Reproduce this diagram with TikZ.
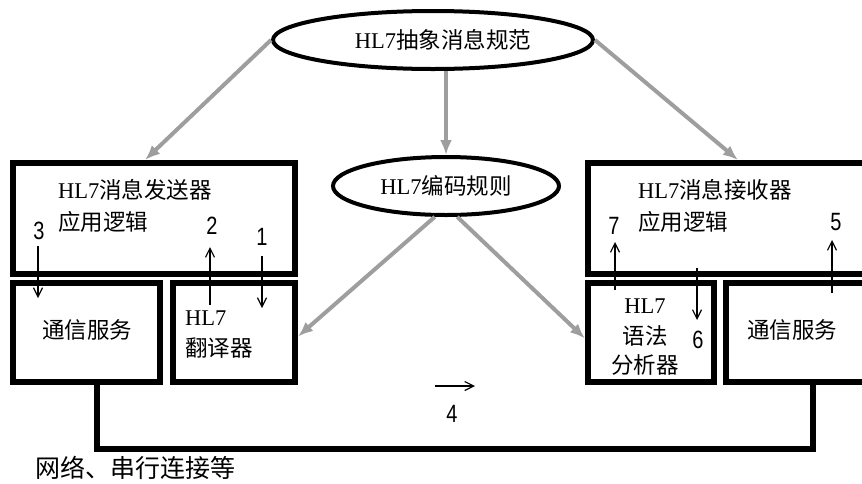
\documentclass[tikz,border=0pt]{standalone}
\usepackage{fontspec}
\setmainfont{Liberation Serif}
\newfontfamily\cjk{Noto Sans CJK SC}
\newfontfamily\numf{Liberation Sans}
\usetikzlibrary{arrows.meta,shapes.geometric}
\begin{document}
\begin{tikzpicture}[x=1pt,y=-1pt,
  box/.style={draw=black,line width=6pt,rectangle,inner sep=0pt},
  oval/.style={draw=black,line width=4pt,ellipse,inner sep=0pt,fill=white},
  txt/.style={font=\fontsize{22.5}{26}\selectfont,inner sep=0pt,align=left},
  num/.style={font=\fontsize{25}{25}\numf,inner sep=0pt,xscale=0.8},
  garrow/.style={draw=black!38,line width=4pt,-{Latex[length=15pt,width=12pt]}},
  narrow/.style={draw=black,line width=1.2pt,-{Straight Barb[length=9pt,width=9pt]}},
  net/.style={draw=black,line width=6pt}]
\useasboundingbox (0,0) rectangle (862,483);
\clip (0,0) rectangle (862,483);
% boxes
\node[box,minimum width=282pt,minimum height=111pt] (sender) at (154,218.5) {};
\node[box,minimum width=147pt,minimum height=99pt] (commL) at (86.5,332.5) {};
\node[box,minimum width=122pt,minimum height=99pt] (trans) at (234,332.5) {};
\node[box,minimum width=282pt,minimum height=111pt] (recv) at (729,218.5) {};
\node[box,minimum width=126pt,minimum height=99pt] (parser) at (651,332.5) {};
\node[box,minimum width=144pt,minimum height=99pt] (commR) at (798,332.5) {};
% ellipses
\node[oval,minimum width=320pt,minimum height=58pt] (e1) at (433,40) {};
\node[txt] (e1t) at (443,40) {HL7{\cjk 抽象消息规范}};
\node[oval,minimum width=226pt,minimum height=58pt] (e2) at (446,186) {};
\node[txt] (e2t) at (e2) {HL7{\cjk 编码规则}};
% texts
\node[txt,anchor=west] (st1) at (58,190) {HL7{\cjk 消息发送器}};
\node[txt,anchor=west] (st2) at (58,222) {\cjk 应用逻辑};
\node[txt,anchor=west] (rt1) at (638,190) {HL7{\cjk 消息接收器}};
\node[txt,anchor=west] (rt2) at (638,222) {\cjk 应用逻辑};
\node[txt] (clt) at (87,330) {\cjk 通信服务};
\node[txt] (crt) at (792,330) {\cjk 通信服务};
\node[txt,anchor=west] (tt1) at (185,318) {HL7};
\node[txt,anchor=west] (tt2) at (185,348) {\cjk 翻译器};
\node[txt] (pt1) at (645,306) {HL7};
\node[txt] (pt2) at (645,336) {\cjk 语法};
\node[txt] (pt3) at (645,365) {\cjk 分析器};
\node[txt,anchor=west,font=\fontsize{25}{28}\selectfont] (netl) at (35,468) {\cjk 网络、串行连接等};
% gray arrows
\draw[garrow] (e1.west) -- ([xshift=-9pt]sender.north);
\draw[garrow] (e2.north |- e1.south) -- (e2.north);
\draw[garrow] (e1.east) -- ([xshift=9pt]recv.north);
\draw[garrow] (e2.250) -- ([yshift=-4pt]trans.east);
\draw[garrow] (e2.290) -- ([yshift=-6pt]parser.west);
% numbered arrows
\node[num] (n3) at (39,231) {3};
\coordinate (a3) at (38,298);
\draw[narrow] (38,246) -- (a3);
\node[num] (n2) at (212,226) {2};
\coordinate (b2) at (210,305);
\draw[narrow] (b2) -- (210,247);
\node[num] (n1) at (262,237) {1};
\coordinate (a1) at (262,308);
\draw[narrow] (262,256) -- (a1);
\node[num] (n7) at (614,226) {7};
\coordinate (b7) at (615,290);
\draw[narrow] (b7) -- (615,242);
\node[num] (n6) at (698,340) {6};
\coordinate (b6) at (697,268);
\draw[narrow] (b6) -- (697,320);
\node[num] (n5) at (836,222) {5};
\coordinate (b5) at (832,293);
\draw[narrow] (b5) -- (832,240);
\node[num] (n4) at (452,414) {4};
\coordinate (a4s) at (435,386);
\coordinate (a4e) at (475,386);
\draw[narrow] (a4s) -- (a4e);
% network line
\coordinate (nb) at (450,449);
\draw[net] ([xshift=10pt]commL.south) |- (nb) -| ([xshift=15pt]commR.south);
\end{tikzpicture}
\end{document}
